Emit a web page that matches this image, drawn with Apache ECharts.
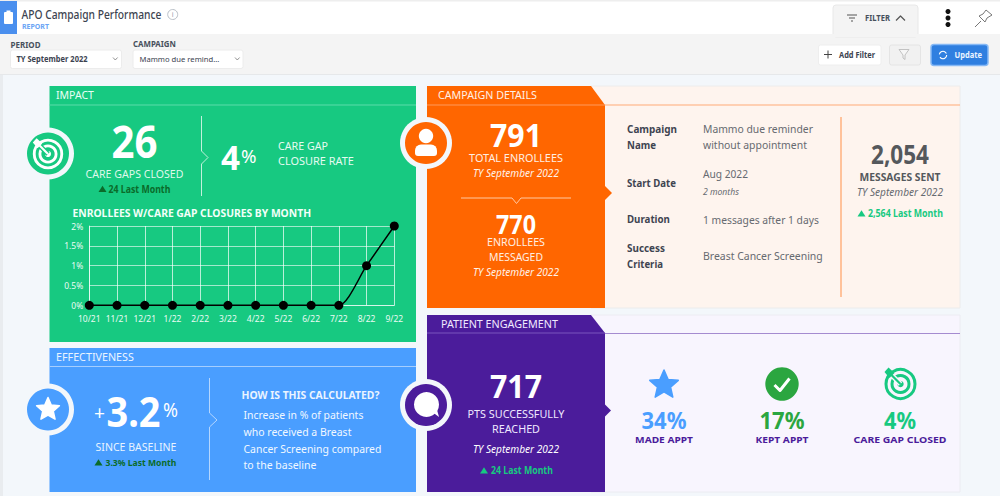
<!DOCTYPE html>
<html><head><meta charset="utf-8">
<style>html,body{margin:0;padding:0;background:#f3f7fb}#c{width:1000px;height:496px}</style>
<script src="https://cdn.jsdelivr.net/npm/echarts@6/dist/echarts.min.js"></script>
</head><body><div id="c"></div>
<script>
const months=['10/21','11/21','12/21','1/22','2/22','3/22','4/22','5/22','6/22','7/22','8/22','9/22'];
const closures=[0,0,0,0,0,0,0,0,0,0,1,2];
const yTicks=[0,0.5,1,1.5,2];
const gapsClosed='26', gapsLast='24 Last Month', closureRate='4';
const effectiveness='3.2', effLast='3.3% Last Month';
const enrollees='791', messaged='770', sent='2,054', sentLast='2,564 Last Month';
const reached='717', reachedLast='24 Last Month';
const engagePct=['34%','17%','4%'];
const engageLabels=['MADE APPT','KEPT APPT','CARE GAP CLOSED'];
const period='TY September 2022';

const FF='Noto Sans';
const GREEN='#17c981',BLUE='#4a9eff',ORANGE='#ff6600',PURPLE='#4b1c9b',BG='#f3f7fb';
const G=[];
const mc=document.createElement('canvas').getContext('2d');
function T(x,y,text,o){o=o||{};
  const font=(o.i?'italic ':'')+(o.w||400)+' '+(o.s||10)+'px '+(o.f||FF);
  let sx=1; if(o.tw){mc.font=font;sx=o.tw/mc.measureText(text).width;}
  G.push({type:'text',x:x,y:y,scaleX:sx,silent:true,style:{text:text,x:0,y:0,font:font,fill:o.c||'#fff',opacity:o.o==null?1:o.o,textAlign:o.a||'left',textVerticalAlign:'middle'}});
}
function R(x,y,w,h,fill,o){o=o||{};G.push({type:'rect',silent:true,shape:{x:x,y:y,width:w,height:h,r:o.r||0},style:{fill:fill,stroke:o.st||null,lineWidth:o.lw||1}});}
function C(x,y,r,fill,o){o=o||{};G.push({type:'circle',silent:true,shape:{cx:x,cy:y,r:r},style:{fill:fill,stroke:o.st||null,lineWidth:o.lw||1,lineDash:o.dash||null}});}
function PG(pts,fill,o){o=o||{};G.push({type:'polygon',silent:true,shape:{points:pts},style:{fill:fill,stroke:o.st||null,lineWidth:o.lw||0,lineJoin:'round'}});}
function PL(pts,st,lw,o){o=o||{};G.push({type:'polyline',silent:true,shape:{points:pts},style:{fill:null,stroke:st,lineWidth:lw,opacity:o.o==null?1:o.o,lineCap:o.cap||'butt',lineJoin:'round'}});}
function star(cx,cy,r,fill){const p=[];for(let i=0;i<10;i++){const a=-Math.PI/2+i*Math.PI/5,q=i%2?r*0.46:r;p.push([cx+q*Math.cos(a),cy+q*Math.sin(a)]);}PG(p,fill,{st:fill,lw:1.5});}
function target(cx,cy,k,col,bg){
  C(cx,cy,14.5*k,null,{st:col,lw:3*k});C(cx,cy,8.5*k,null,{st:col,lw:3*k});C(cx,cy,3.2*k,col);
  PL([[cx-14*k,cy-14*k],[cx,cy]],bg,5*k);
  PL([[cx-12*k,cy-12*k],[cx,cy]],col,2.2*k);
  PG([[cx-16*k,cy-12*k],[cx-12*k,cy-16.5*k],[cx-6*k,cy-11*k],[cx-11*k,cy-6*k]],col);
}
function ring(cx,cy,disc){C(cx,cy,26,BG);C(cx,cy,21,disc);}
function tri(cx,y,col,sz){sz=sz||4;PG([[cx,y-sz*0.95],[cx+sz,y+sz*0.6],[cx-sz,y+sz*0.6]],col);}

/* ---- chrome ---- */
R(0,0,1000,34,'#ffffff');R(0,0,1000,1.5,'#eeeeee');R(0,34,1000,40,'#f4f4f4');R(0,74,1000,1,'#e6e8ea');R(0,75,3,421,'#e9ecef');
R(0,1,17,33,'#4a8fee');R(4,12,9,12,'#fff',{r:1});R(6.5,10.5,4,3,'#fff');
T(21.5,14,'APO Campaign Performance',{s:12,w:500,c:'#3c4350',tw:140});
T(22,26,'REPORT',{s:7,w:700,c:'#6aa5f5',tw:27});
C(172.7,14.5,5,null,{st:'#b9c0c8',lw:1});T(172.7,14.7,'i',{s:7,c:'#9aa3ad',a:'center'});
T(10.5,44,'PERIOD',{s:8,w:700,c:'#47505c',tw:30});T(133,44,'CAMPAIGN',{s:8,w:700,c:'#47505c',tw:43});
R(10.5,50,111,18.5,'#fff',{r:2,st:'#ececec'});R(133,50,110,18.5,'#fff',{r:2,st:'#ececec'});
T(16.5,59,period,{s:8,w:700,c:'#3c4350',tw:71});T(139.5,59,'Mammo due remind...',{s:8,w:400,c:'#3c4350',tw:80});
PL([[113,57.5],[115.3,60],[117.6,57.5]],'#777',0.8);PL([[235,57.5],[237.3,60],[239.6,57.5]],'#777',0.8);
R(833,5,85,32,'#f4f4f4',{r:3,st:'#e8e8e8'});R(832,34,87,3,'#f4f4f4');
PL([[847,15],[857,15]],'#555',1);PL([[849,18],[855,18]],'#555',1);PL([[851,21],[853,21]],'#555',1);
T(865,18,'FILTER',{s:8,w:700,c:'#47505c',tw:25});PL([[896,20.5],[900.5,16],[905,20.5]],'#555',1.2);
C(948,11.5,2.5,'#111');C(948,18,2.5,'#111');C(948,24.5,2.5,'#111');
PL([[975,27],[981,21]],'#777',1);PG([[979,16],[985,22],[987,18],[992,15],[986,10],[983,14]],'#fff',{st:'#777',lw:1});
R(818.5,45,62.5,20,'#fff',{r:2,st:'#eeeeee'});PL([[824,54.5],[832,54.5]],'#444',1);PL([[828,50.5],[828,58.5]],'#444',1);T(839,54.5,'Add Filter',{s:8,w:700,c:'#3c4350',tw:36});
R(889.5,45,31,20,'#f1f1f1',{r:2,st:'#e4e4e4'});PG([[899,49.5],[909,49.5],[905,55],[905,59.5],[903,58],[903,55]],'#f6f6f6',{st:'#b5b5b5',lw:0.8});
R(931,44.5,57,21,'#2f7fe0',{r:3,st:'#86b9f5',lw:1.5});C(943,55,3.7,null,{st:'#fff',lw:1.1,dash:[9,2.6]});T(954.5,55,'Update',{s:8,w:700,c:'#eaf3ff',tw:27.5});

/* ---- impact ---- */
R(49.5,86,366.5,256,GREEN);PL([[49.5,105],[416,105]],'#5ddcaa',1);
T(56,95.5,'IMPACT',{s:10,c:'#eafff5',tw:38});
ring(48,153.5,GREEN);target(48,154,0.95,'#fff',GREEN);
T(134.5,141,gapsClosed,{s:44,w:700,a:'center',tw:46});
T(134.5,174,'CARE GAPS CLOSED',{s:10,c:'#dff8ec',a:'center',tw:98});
tri(102.5,189.5,'#0b6b2a');T(108.5,189,gapsLast,{s:10,w:700,c:'#0b6b2a',tw:62});
PL([[201.5,116],[201.5,151],[208,157.5],[201.5,164],[201.5,196]],'#c3f1dc',1);
T(221,157,closureRate,{s:34,w:700,tw:19});T(241,156,'%',{s:19,w:400,tw:15.5});
T(278,146,'CARE GAP',{s:10,c:'#e6fbf1',tw:50});T(278,161,'CLOSURE RATE',{s:10,c:'#e6fbf1',tw:76});
T(72.5,213,'ENROLLEES W/CARE GAP CLOSURES BY MONTH',{s:10,w:700,c:'#f2fff9',tw:239});

/* ---- effectiveness ---- */
R(49.5,348,366.5,144,BLUE);PL([[49.5,366.5],[416,366.5]],'#a5ceff',1);
T(56,357,'EFFECTIVENESS',{s:10,c:'#eaf4ff',tw:78});
ring(48,409.5,BLUE);star(48,409.5,12,'#fff');
T(94,412,'+',{s:20,w:400,tw:11});T(106.5,411,effectiveness,{s:42,w:700,tw:54});T(163,410,'%',{s:20,w:400,tw:15});
T(136,447,'SINCE BASELINE',{s:10,c:'#e8f3ff',a:'center',tw:81});
tri(98.5,463,'#0b6b2a');T(105.5,462,effLast,{s:9.5,w:700,c:'#0b6b2a',tw:71});
PL([[209.5,378],[209.5,413],[217,420],[209.5,427],[209.5,480]],'#b4d6ff',1);
T(241.5,395,'HOW IS THIS CALCULATED?',{s:10,w:700,c:'#eaf4ff',tw:138});
['Increase in % of patients','who received a Breast','Cancer Screening compared','to the baseline'].forEach((l,i)=>T(243.5,[415,432,448.5,465][i],l,{s:11,c:'#f1f8ff',tw:[120,108,138,73][i]}));

/* ---- campaign details ---- */
R(591,86,369,222,'#fef4ee',{st:'#ececec'});
PG([[427,86],[591,86],[605,105],[605,308],[427,308]],ORANGE);
PL([[427,105],[605,105]],'#ff9a5c',1);PL([[605,105],[960,105]],'#ffaa77',1);
PG([[605,186],[612,193],[605,200]],ORANGE);
T(438,95.5,'CAMPAIGN DETAILS',{s:10,c:'#fff0e6',tw:99});
ring(426,143,ORANGE);C(426,136,7.2,'#fff');R(415,144.5,22,11.5,'#fff',{r:[6,6,3,3]});
T(516,134,enrollees,{s:33,w:700,a:'center',tw:52});
T(516,158,'TOTAL ENROLLEES',{s:10,a:'center',c:'#ffeee2',tw:94});
T(516,173,period,{s:10,i:1,a:'center',c:'#fff3ea',tw:86});
PL([[461,198],[512,198],[516.5,203.5],[521,198],[571,198]],'#ffc9a3',1);
T(516,223,messaged,{s:27,w:700,a:'center',tw:40});
T(516,242,'ENROLLEES',{s:10,a:'center',c:'#ffeee2',tw:58});T(516,257,'MESSAGED',{s:10,a:'center',c:'#ffeee2',tw:54});
T(516,272.5,period,{s:10,i:1,a:'center',c:'#fff3ea',tw:86});
[['Campaign',129,50],['Name',145,29],['Start Date',183,49],['Duration',219,43],['Success',248,38],['Criteria',264,36]].forEach(a=>T(627,a[1],a[0],{s:10.5,w:700,c:'#3e4451',tw:a[2]}));
[['Mammo due reminder',128.5,110],['without appointment',145,104],['Aug 2022',174,45],['1 messages after 1 days',219.5,116],['Breast Cancer Screening',256,120]].forEach(a=>T(703,a[1],a[0],{s:11,c:'#666a70',tw:a[2]}));
T(703,191.5,'2 months',{s:9,i:1,c:'#666a70',tw:36});
PL([[841,117],[841,297]],'#ffb27f',1.5);
T(900,153,sent,{s:27,w:700,c:'#55585c',a:'center',tw:58});
T(900,177,'MESSAGES SENT',{s:10,w:700,c:'#55585c',a:'center',tw:81});
T(900,192,period,{s:10,i:1,c:'#666a70',a:'center',tw:86});
tri(861.5,214,GREEN);T(868,213,sentLast,{s:10,w:700,c:GREEN,tw:75});

/* ---- patient engagement ---- */
R(591,315,369,177,'#f8f5fe',{st:'#ececf2'});
PG([[427,315],[591,315],[605,333],[605,492],[427,492]],PURPLE);
PL([[427,333],[605,333]],'#7a55bd',1);PL([[605,333.5],[960,333.5]],'#a58bd0',1);
PG([[605,404.5],[611,410.5],[605,416.5]],PURPLE);
T(441,324,'PATIENT ENGAGEMENT',{s:10,c:'#f0e9ff',tw:117});
ring(426,405,PURPLE);C(426.5,404.5,12.5,'#fff');PG([[431,411],[439,417],[436.5,408]],'#fff');
T(516,385,reached,{s:33,w:700,a:'center',tw:52});
T(516,414,'PTS SUCCESSFULLY',{s:10,a:'center',c:'#efe8ff',tw:97});T(516,429,'REACHED',{s:10,a:'center',c:'#efe8ff',tw:48});
T(516,449.5,period,{s:10,i:1,a:'center',c:'#fff',tw:86});
tri(484,471,GREEN);T(491,470,reachedLast,{s:10,w:700,c:GREEN,tw:62});
star(664,385,15,BLUE);
C(782,384,16.7,'#2ba640');PL([[774.5,385],[780,390.5],[789.5,378.5]],'#fff',3);
target(900.5,384,1,GREEN,'#f8f5fe');
const cols=[BLUE,'#2ba640',GREEN],cx=[664,782,900];
engagePct.forEach((p,i)=>T(cx[i],420,p,{s:24,w:700,c:cols[i],a:'center',tw:[45,45,32][i]}));
engageLabels.forEach((l,i)=>T(cx[i],439,l,{s:9.5,w:700,c:PURPLE,a:'center',tw:[58,53,93][i]}));

const chart=echarts.init(document.getElementById('c'),null,{renderer:'svg',width:1000,height:496});
chart.setOption({
  animation:false,
  backgroundColor:BG,
  graphic:{elements:G},
  grid:{left:89.3,right:605.7,top:226,bottom:190.7,containLabel:false},
  xAxis:{type:'category',z:1,data:months,boundaryGap:false,
    axisLine:{show:true,lineStyle:{color:'rgba(255,255,255,0.55)',width:1}},axisTick:{show:false},
    axisLabel:{color:'#e9fbf3',fontFamily:FF,fontSize:8.5,margin:8.5,interval:0},
    splitLine:{show:true,lineStyle:{color:'rgba(255,255,255,0.7)',width:1}}},
  yAxis:{type:'value',z:1,min:0,max:2,interval:0.5,
    axisLine:{show:true,lineStyle:{color:'rgba(255,255,255,0.6)'}},axisTick:{show:false},
    axisLabel:{color:'#e9fbf3',fontFamily:FF,fontSize:8.5,margin:6,formatter:v=>yTicks.includes(v)?v+'%':''},
    splitLine:{show:true,lineStyle:{color:'rgba(255,255,255,0.6)',width:1}}},
  series:[{type:'line',data:closures,smooth:0.25,symbol:'circle',symbolSize:9,z:3,
    lineStyle:{color:'#000',width:1.5},itemStyle:{color:'#000'}}]
});
</script></body></html>
